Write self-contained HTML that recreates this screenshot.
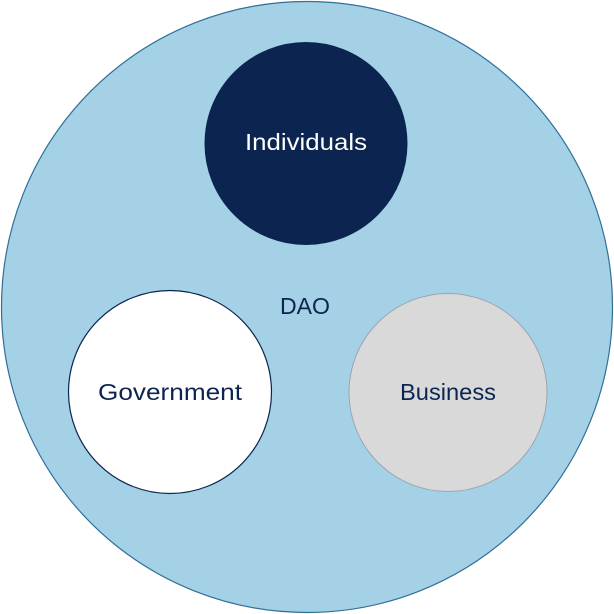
<!DOCTYPE html>
<html><head><style>
html,body{margin:0;padding:0;background:#fff;width:614px;height:614px;overflow:hidden}
</style></head><body>
<svg width="614" height="614" viewBox="0 0 614 614" xmlns="http://www.w3.org/2000/svg">
<circle cx="307" cy="307" r="305.5" fill="#a5d1e6" stroke="#2f6f9a" stroke-width="1.2"/>
<circle cx="306" cy="143.5" r="101" fill="#0b2550" stroke="#0b2550"/>
<circle cx="170" cy="392" r="101.5" fill="#ffffff" stroke="#0b2550" stroke-width="1.2"/>
<circle cx="448" cy="392.5" r="99" fill="#d9d9d9" stroke="#9aa6b2" stroke-width="1"/>
<g font-family="'Liberation Sans', sans-serif" font-size="23" text-anchor="middle">
<text x="306" y="150" fill="#ffffff" textLength="122" lengthAdjust="spacingAndGlyphs">Individuals</text>
<text x="305" y="314" fill="#0b2550" textLength="50" lengthAdjust="spacingAndGlyphs">DAO</text>
<text x="170" y="400" fill="#0b2550" textLength="144" lengthAdjust="spacingAndGlyphs">Government</text>
<text x="448" y="400" fill="#0b2550" textLength="96" lengthAdjust="spacingAndGlyphs">Business</text>
</g>
</svg>
</body></html>
